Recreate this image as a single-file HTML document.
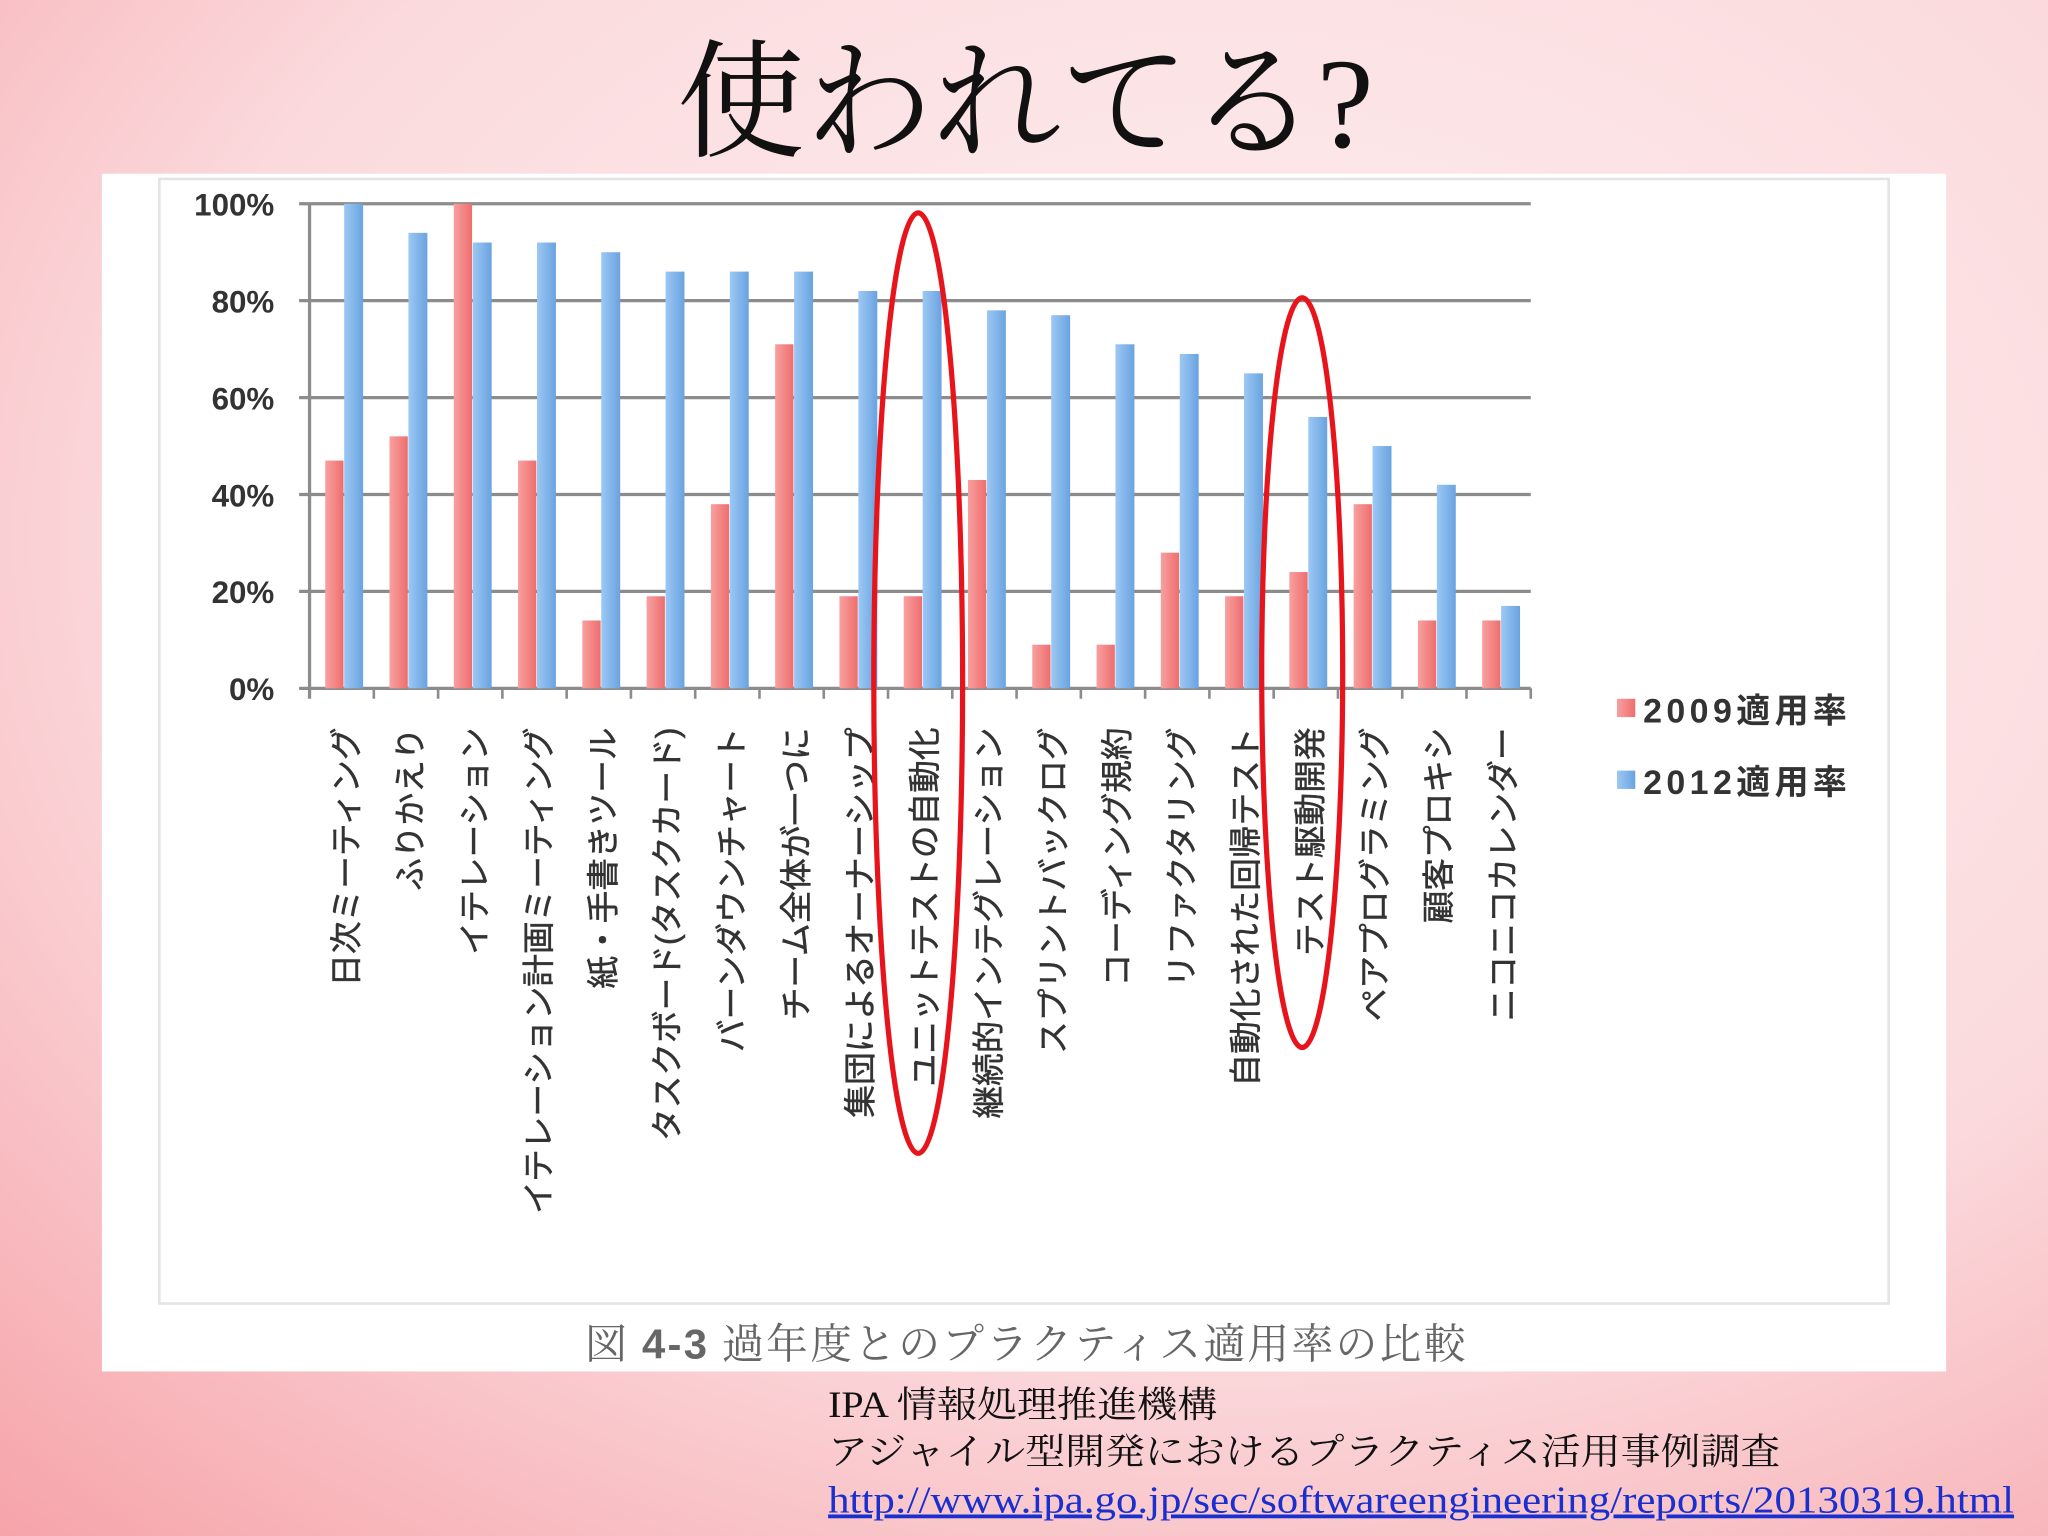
<!DOCTYPE html>
<html><head><meta charset="utf-8"><style>
html,body{margin:0;padding:0;width:2048px;height:1536px;overflow:hidden}
svg{display:block}
</style></head><body>
<svg width="2048" height="1536" viewBox="0 0 1568 1176" xmlns="http://www.w3.org/2000/svg" font-family="'Liberation Sans','Noto Sans CJK JP',sans-serif">
<defs>
<radialGradient id="bg" cx="0.6" cy="0.35" r="0.95">
<stop offset="0" stop-color="#fdf1f2"/><stop offset="0.55" stop-color="#fbdadd"/><stop offset="1" stop-color="#f59aa0"/>
</radialGradient>
<linearGradient id="rg" x1="0" x2="1"><stop offset="0" stop-color="#f8a0a0"/><stop offset="1" stop-color="#ee6e6e"/></linearGradient>
<linearGradient id="bgr" x1="0" x2="1"><stop offset="0" stop-color="#9cc8f4"/><stop offset="1" stop-color="#6aa3e0"/></linearGradient>
</defs>
<rect width="1568" height="1176" fill="url(#bg)"/>
<text x="785" y="112" font-size="98" text-anchor="middle" fill="#111" font-family="'Liberation Serif','Noto Serif CJK SC',serif">使われてる?</text>
<rect x="78" y="133" width="1412" height="917" fill="#fff"/>
<rect x="122" y="137" width="1324" height="861" fill="none" stroke="#e4e4e4" stroke-width="2"/>
<g id="chart"></g>
<text x="448" y="1040" font-size="32" fill="#666" textLength="674" lengthAdjust="spacing" font-family="'Liberation Serif','Noto Serif CJK JP',serif">図 <tspan font-family="'Liberation Sans',sans-serif" font-weight="bold">4-3</tspan> 過年度とのプラクティス適用率の比較</text>
<ellipse cx="703" cy="523" rx="34" ry="360" fill="none" stroke="#e8141c" stroke-width="4"/>
<ellipse cx="997" cy="515" rx="31" ry="287" fill="none" stroke="#e8141c" stroke-width="4"/>
<text x="634" y="1085" font-size="28" fill="#111" textLength="298" lengthAdjust="spacingAndGlyphs" font-family="'Liberation Serif','Noto Serif CJK JP',serif">IPA 情報処理推進機構</text>
<text x="634" y="1121" font-size="28" fill="#111" textLength="729" lengthAdjust="spacingAndGlyphs" font-family="'Liberation Serif','Noto Serif CJK JP',serif">アジャイル型開発におけるプラクティス活用事例調査</text>
<text x="634" y="1158" font-size="29" fill="#1a2fd0" text-decoration="underline" textLength="908" lengthAdjust="spacingAndGlyphs" font-family="'Liberation Serif',serif">http://www.ipa.go.jp/sec/softwareengineering/reports/20130319.html</text>
</svg>
<script>
const categories=["日次ミーティング","ふりかえり","イテレーション","イテレーション計画ミーティング","紙・手書きツール","タスクボード(タスクカード)","バーンダウンチャート","チーム全体が一つに","集団によるオーナーシップ","ユニットテストの自動化","継続的インテグレーション","スプリントバックログ","コーディング規約","リファクタリング","自動化された回帰テスト","テスト駆動開発","ペアプログラミング","顧客プロキシ","ニコニコカレンダー"];
const rate2009=[47,52,100,47,14,19,38,71,19,19,43,9,9,28,19,24,38,14,14];
const rate2012=[100,94,92,92,90,86,86,86,82,82,78,77,71,69,65,56,50,42,17];
const yTicks=[0,20,40,60,80,100];
const NS="http://www.w3.org/2000/svg";
const g=document.getElementById('chart');
const x0=237,x1=1172,yTop=156,yBot=527;
const slot=(x1-x0)/categories.length;
const y=v=>yBot-(yBot-yTop)*v/100;
const xs=i=>x0+i*slot;
function mk(t,a){const e=document.createElementNS(NS,t);for(const k in a)e.setAttribute(k,a[k]);g.appendChild(e);return e;}
yTicks.forEach(t=>{
 const l=mk('line',{x1:x0-8,x2:x1,y1:y(t),y2:y(t),stroke:'#8c8c8c','stroke-width':2.5});
 
 
 const tx=mk('text',{x:210,y:y(t)+9,'font-size':24,'text-anchor':'end',fill:'#333','font-weight':'bold'});
 tx.textContent=t+'%';
 
 
});
const ax=mk('line',{x1:x0,x2:x0,y1:yTop,y2:yBot+8,stroke:'#8c8c8c','stroke-width':2.5});


categories.forEach((c,i)=>{
 const tk=mk('line',{x1:xs(i+1),x2:xs(i+1),y1:yBot,y2:yBot+8,stroke:'#8c8c8c','stroke-width':2});
 
 
 const r=mk('rect',{x:xs(i)+12,y:y(rate2009[i]),width:14,height:yBot-y(rate2009[i]),fill:'url(#rg)'});
 
 
 const b=mk('rect',{x:xs(i)+26.5,y:y(rate2012[i]),width:14.5,height:yBot-y(rate2012[i]),fill:'url(#bgr)'});
 
 
 const cx=xs(i)+slot/2+3;
 const t=mk('text',{x:0,y:0,'font-size':25,'text-anchor':'end',fill:'#333','stroke':'#333','stroke-width':0.4,transform:`translate(${cx+9},557) rotate(-90)`});
 t.textContent=c;
 
 
});
[["2009適用率","url(#rg)",543],["2012適用率","url(#bgr)",598]].forEach(([n,f,yy],k)=>{
 const s=mk('rect',{x:1238,y:yy-8,width:14,height:14,fill:f});
 
 
 const t=mk('text',{x:1258,y:yy+10,'font-size':26,fill:'#333','font-weight':'bold',textLength:156});
 t.textContent=n;
 
 
});
</script>
</body></html>
